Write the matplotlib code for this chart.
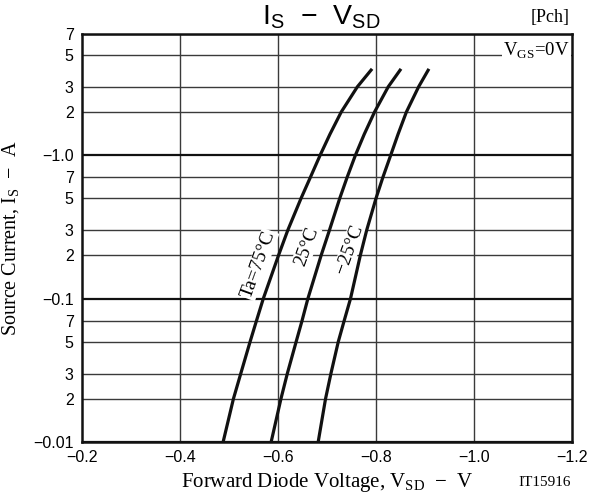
import matplotlib
matplotlib.use('Agg')
import matplotlib.pyplot as plt
from matplotlib.ticker import FixedLocator, FixedFormatter, NullLocator

plt.rcParams['mathtext.fontset'] = 'custom'
plt.rcParams['mathtext.rm'] = 'Liberation Serif'
plt.rcParams['mathtext.sf'] = 'Liberation Sans'

# source current magnitude (A)
I_S = [0.01, 0.02, 0.03, 0.05, 0.07, 0.1, 0.2, 0.3, 0.5, 0.7, 1.0, 1.4, 2.0, 3.0, 4.0]

# forward diode voltage (V) for each ambient temperature
V_75 = [-0.488, -0.509, -0.524, -0.543, -0.556, -0.570, -0.601, -0.620, -0.647, -0.666, -0.686, -0.706, -0.729, -0.762, -0.792]
V_25 = [-0.586, -0.606, -0.619, -0.637, -0.649, -0.661, -0.688, -0.705, -0.726, -0.741, -0.758, -0.776, -0.797, -0.825, -0.851]
V_m25 = [-0.682, -0.697, -0.708, -0.723, -0.735, -0.748, -0.768, -0.781, -0.800, -0.814, -0.830, -0.845, -0.862, -0.887, -0.908]

X_TICKS = [-0.2, -0.4, -0.6, -0.8, -1.0, -1.2]
X_LABELS = ['\u22120.2', '\u22120.4', '\u22120.6', '\u22120.8', '\u22121.0', '\u22121.2']
Y_MAJOR = [0.01, 0.1, 1.0]
Y_MAJOR_LABELS = ['\u22120.01', '\u22120.1', '\u22121.0']
Y_MINOR = [0.02, 0.03, 0.05, 0.07, 0.2, 0.3, 0.5, 0.7, 2, 3, 5, 7]
Y_MINOR_LABELS = ['2', '3', '5', '7', '2', '3', '5', '7', '2', '3', '5', '7']

sans = 'Liberation Sans'
serif = 'Liberation Serif'

fig = plt.figure(figsize=(6.0, 4.95), dpi=100)
ax = fig.add_axes([0.1367, 0.1071, 0.8166, 0.8242])

ax.set_yscale('log')
ax.set_xlim(-0.2, -1.2)
ax.set_ylim(0.01, 7)

# grid lines
for v in X_TICKS[1:-1]:
    ax.axvline(v, color='#3a3a3a', linewidth=1.0, zorder=1)
for v in Y_MINOR:
    ax.axhline(v, color='#3a3a3a', linewidth=1.0, zorder=1)
for v in Y_MAJOR:
    ax.axhline(v, color='#111111', linewidth=1.6, zorder=1)

for vals in (V_75, V_25, V_m25):
    ax.plot(vals, I_S, color='#111111', linewidth=2.3, solid_capstyle='butt',
            solid_joinstyle='round', zorder=3)

ax.xaxis.set_major_locator(FixedLocator(X_TICKS))
ax.xaxis.set_major_formatter(FixedFormatter(X_LABELS))
ax.xaxis.set_minor_locator(NullLocator())
ax.yaxis.set_major_locator(FixedLocator(Y_MAJOR))
ax.yaxis.set_major_formatter(FixedFormatter(Y_MAJOR_LABELS))
ax.yaxis.set_minor_locator(FixedLocator(Y_MINOR))
ax.yaxis.set_minor_formatter(FixedFormatter(Y_MINOR_LABELS))
ax.tick_params(axis='both', which='both', length=0, labelsize=11.5, pad=6)
for lab in ax.get_xticklabels() + ax.get_yticklabels() + ax.get_yticklabels(minor=True):
    lab.set_fontfamily(sans)

for s in ax.spines.values():
    s.set_linewidth(1.8)
    s.set_color('#111111')

# curve labels
box = dict(facecolor='white', edgecolor='none', pad=0.5)
ax.text(-0.560, 0.173, 'Ta=75°C', rotation=70, fontsize=14, family=serif,
        ha='center', va='center', bbox=box, zorder=2)
ax.text(-0.658, 0.231, '25°C', rotation=70, fontsize=14, family=serif,
        ha='center', va='center', bbox=box, zorder=2)
ax.text(-0.746, 0.22, '\u221225°C', rotation=70, fontsize=14, family=serif,
        ha='center', va='center', bbox=box, zorder=2)

ax.text(-1.195, 5.3, r'V$_{\mathrm{GS}}$=0V', fontsize=13.5, family=serif,
        ha='right', va='center', bbox=dict(facecolor='white', edgecolor='none', pad=1), zorder=2)

# titles and axis labels
fig.text(0.535, 0.966, r'$\mathsf{I}_{\mathsf{S}}$  ' + '\u2212' + r'  $\mathsf{V}_{\mathsf{SD}}$',
         fontsize=20.5, family=sans, ha='center', va='center')
fig.text(0.95, 0.965, '[Pch]', fontsize=13, family=serif, ha='right', va='center')

ax.set_xlabel('Forward Diode Voltage, V$_{\\mathrm{SD}}$  \u2212  V', fontsize=15, family=serif, labelpad=4)
ax.set_ylabel('Source Current, I$_{\\mathrm{S}}$  \u2212  A', fontsize=14.5, family=serif, labelpad=9)
fig.text(0.907, 0.026, 'IT15916', fontsize=11, family=serif, ha='center', va='center')

fig.savefig('out.png', dpi=100)
